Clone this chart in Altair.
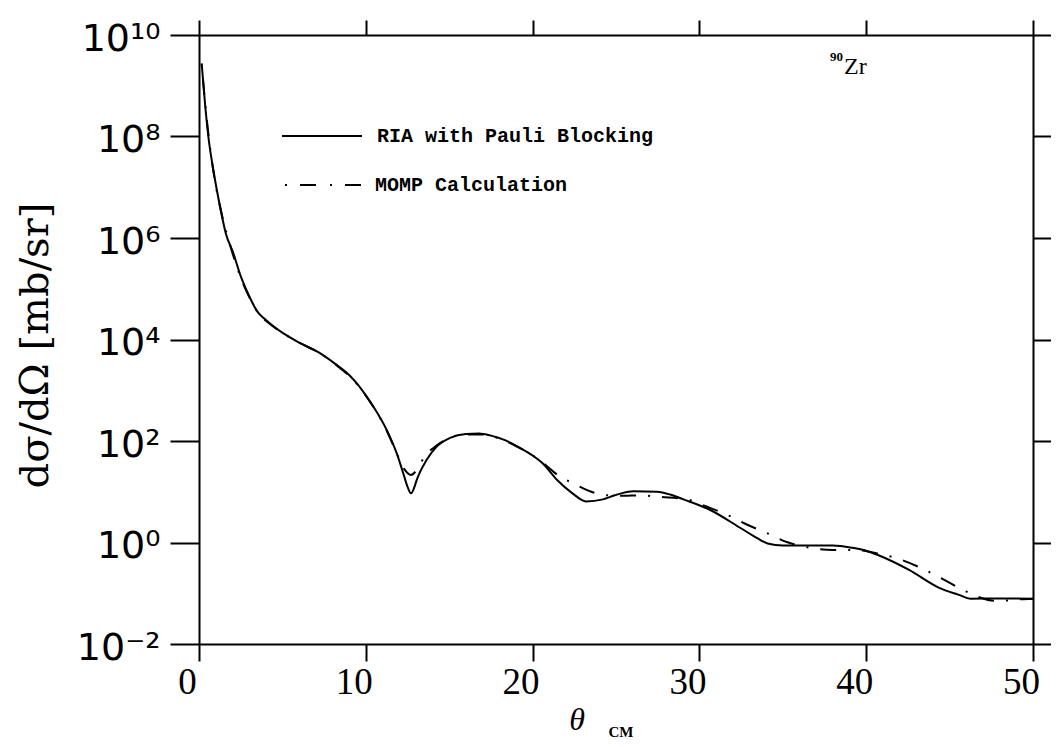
import altair as alt
import pandas as pd

# RIA with Pauli Blocking (solid)
ria_theta = [0.16, 0.36, 0.56, 0.86, 1.26, 1.6, 2.06, 2.5, 3.06, 3.5, 3.96, 4.5, 5.06, 6.06,
             7.25, 8.25, 9.0, 9.45, 10.0, 10.45, 11.25, 11.85, 12.25, 12.5, 12.71, 12.9, 13.05,
             13.65, 14.25, 15.05, 16.0, 16.8, 17.45, 18.3, 19.1, 20.6, 21.47, 22.39, 23.2, 24.22,
             24.92, 26.06, 27.44, 28.3, 29.04, 30.65, 32.49, 33.5, 34.09, 35.0, 38.0, 39.14, 40.0,
             40.74, 42.57, 44.41, 45.56, 46.25, 48.08, 50.0]
ria_xs = [2.75e9, 4.47e8, 1.0e8, 2.19e7, 4.17e6, 1.26e6, 5.0e5, 1.78e5, 6.6e4, 3.55e4, 2.51e4,
          1.78e4, 1.32e4, 8.5e3, 5.4e3, 3.16e3, 2.0e3, 1.38e3, 794, 479, 166, 57.5, 22.9, 12.6,
          9.3, 12.0, 17.0, 42.7, 77.6, 115, 138, 141, 129, 105, 77.6, 36.3, 17.0, 9.3, 6.46,
          7.08, 8.5, 10.2, 10.0, 8.7, 7.08, 4.37, 1.91, 1.20, 0.955, 0.87, 0.87, 0.79, 0.69,
          0.56, 0.288, 0.126, 0.093, 0.078, 0.079, 0.078]

# MOMP Calculation (dash-dot)
momp_theta = [0.16, 0.4, 0.7, 1.0, 1.4, 1.9, 2.5, 3.1, 3.6, 4.2, 5.0, 6.0, 7.2, 8.3, 9.4, 10.4,
              11.2, 11.8, 12.3, 12.7, 13.1, 13.5, 14.2, 15.0, 16.0, 17.0, 18.0, 19.0, 20.5, 21.5,
              22.4, 23.7, 24.5, 25.5, 26.4, 27.7, 29.25, 30.5, 31.56, 32.94, 34.09, 35.24, 36.61,
              38.0, 39.4, 40.74, 42.0, 43.15, 44.3, 45.79, 46.7, 47.5, 48.08, 49.2, 50.0]
momp_xs = [2.63e9, 3.55e8, 4.79e7, 1.12e7, 2.63e6, 6.6e5, 1.66e5, 6.0e4, 3.16e4, 2.09e4, 1.35e4,
           8.7e3, 5.5e3, 3.02e3, 1.41e3, 501, 174, 63.1, 28.2, 21.4, 28.2, 47.9, 79.4, 115, 135,
           135, 112, 79.4, 39.8, 21.4, 14.8, 9.55, 8.5, 8.3, 8.5, 7.9, 7.08, 5.0, 3.63, 2.19,
           1.51, 1.02, 0.79, 0.71, 0.71, 0.60, 0.47, 0.33, 0.214, 0.117, 0.085, 0.072, 0.071,
           0.076, 0.078]

x_ticks = [0, 10, 20, 30, 40, 50]
y_ticks = [1e-2, 1e0, 1e2, 1e4, 1e6, 1e8, 1e10]

legend_labels = ["RIA with Pauli Blocking", "MOMP Calculation"]
y_title = "dσ/dΩ [mb/sr]"

W, H = 834, 609

df_ria = pd.DataFrame({"theta": ria_theta, "xs": ria_xs})
df_momp = pd.DataFrame({"theta": momp_theta, "xs": momp_xs})

xscale = alt.Scale(domain=[0, 50], nice=False, zero=False)
yscale = alt.Scale(type="log", domain=[1e-2, 1e10], nice=False)

label_expr = ("datum.value < 0.05 ? '10⁻²' : datum.value < 5 ? '10⁰' : "
              "datum.value < 500 ? '10²' : datum.value < 5e4 ? '10⁴' : "
              "datum.value < 5e6 ? '10⁶' : datum.value < 5e8 ? '10⁸' : '10¹⁰'")

axis_common = dict(domainColor="black", domainWidth=2, tickColor="black", tickWidth=2,
                   grid=False)

bottom_axis = alt.Axis(orient="bottom", values=x_ticks, tickSize=17, labelFont="Liberation Serif",
                       labelFontSize=37, labelColor="black", labelPadding=3, labelOffset=-12,
                       title=None, labelFlush=False, **axis_common)
top_axis = alt.Axis(orient="top", values=x_ticks, tickSize=15, labels=False, title=None,
                    **axis_common)
left_axis = alt.Axis(orient="left", values=y_ticks, tickSize=29, labelExpr=label_expr,
                     labelFont="DejaVu Sans", labelFontSize=38, labelColor="black",
                     labelPadding=10, labelOffset=4, labelFlush=False, title=y_title,
                     titleFont="DejaVu Serif", titleFontSize=40, titleFontWeight="normal",
                     titleColor="black", titleX=-164, titleY=310, titleAngle=270,
                     titleAlign="center", titleBaseline="middle", **axis_common)
right_axis = alt.Axis(orient="right", values=y_ticks, tickSize=25, labels=False, title=None,
                      **axis_common)

ria = alt.Chart(df_ria).mark_line(color="black", strokeWidth=2, interpolate="monotone").encode(
    x=alt.X("theta:Q", scale=xscale, axis=bottom_axis),
    y=alt.Y("xs:Q", scale=yscale, axis=left_axis),
)
momp = alt.Chart(df_momp).mark_line(color="black", strokeWidth=2, interpolate="monotone",
                                    strokeDash=[2, 12, 16, 12]).encode(
    x=alt.X("theta:Q", scale=xscale, axis=top_axis),
    y=alt.Y("xs:Q", scale=yscale, axis=right_axis),
)

one = pd.DataFrame({"k": [0]})

leg1 = alt.Chart(one).mark_rule(color="black", strokeWidth=2).encode(
    x=alt.value(83), x2=alt.value(163), y=alt.value(101))
leg2 = alt.Chart(one).mark_rule(color="black", strokeWidth=2, strokeDash=[2, 13, 16, 14]).encode(
    x=alt.value(86), x2=alt.value(168), y=alt.value(150))
leg_t1 = alt.Chart(one).mark_text(font="Liberation Mono", fontWeight="bold", fontSize=20,
                                  align="left", baseline="middle", color="black").encode(
    x=alt.value(178), y=alt.value(101), text=alt.value(legend_labels[0]))
leg_t2 = alt.Chart(one).mark_text(font="Liberation Mono", fontWeight="bold", fontSize=20,
                                  align="left", baseline="middle", color="black").encode(
    x=alt.value(176), y=alt.value(150), text=alt.value(legend_labels[1]))

iso_num = alt.Chart(one).mark_text(font="Liberation Serif", fontWeight="bold", fontSize=13,
                                   align="right", baseline="middle", color="black").encode(
    x=alt.value(644), y=alt.value(22), text=alt.value("90"))
iso_el = alt.Chart(one).mark_text(font="Liberation Serif", fontSize=24, align="left",
                                  baseline="middle", color="black").encode(
    x=alt.value(645), y=alt.value(32), text=alt.value("Zr"))

theta_t = alt.Chart(one).mark_text(font="Liberation Serif", fontStyle="italic", fontSize=32,
                                   align="center", baseline="middle", color="black").encode(
    x=alt.value(378), y=alt.value(685), text=alt.value("θ"))
cm_t = alt.Chart(one).mark_text(font="Liberation Serif", fontWeight="bold", fontSize=15,
                                align="center", baseline="middle", color="black").encode(
    x=alt.value(422), y=alt.value(697), text=alt.value("CM"))

chart = alt.layer(ria, momp, leg1, leg2, leg_t1, leg_t2, iso_num, iso_el, theta_t, cm_t).resolve_axis(
    x="independent", y="independent"
).properties(
    width=W, height=H,
    autosize=alt.AutoSizeParams(type="none"),
    padding={"left": 191, "top": 27, "right": 18, "bottom": 95},
    background="white",
).configure_view(stroke=None)

chart.save("out.html", embed_options={"renderer": "svg", "actions": False})
